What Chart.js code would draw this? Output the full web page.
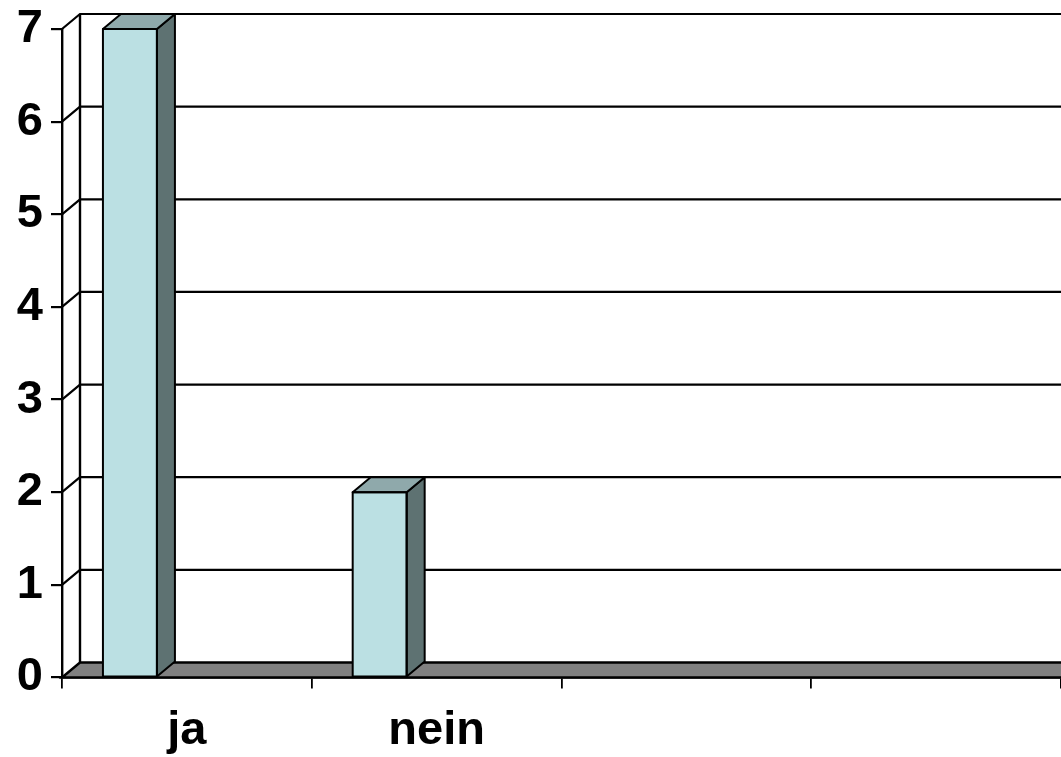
<!DOCTYPE html>
<html>
<head>
<meta charset="utf-8">
<script src="https://cdn.jsdelivr.net/npm/chart.js@4.4.1/dist/chart.umd.min.js"></script>
<style>
  html, body { margin: 0; padding: 0; background: #ffffff; }
  #wrap { width: 1061px; height: 757px; position: relative; }
</style>
</head>
<body>
<div id="wrap"><canvas id="c"></canvas></div>
<script>
// ---- data ----
const categories = ['ja', 'nein', '', ''];
const answerCounts = [7, 2, null, null];
const emptySeries = [null, null, null, null];
const yTicks = [0, 1, 2, 3, 4, 5, 6, 7];

// ---- 3D look ----
const DEPTH_X = 18;
const DEPTH_Y = 15;
const FRONT = '#bbe0e3';
const SIDE = '#5e7272';
const TOP = '#8fa9ab';
const FLOOR = '#808080';

const threeD = {
  id: 'threeD',
  beforeDatasetsDraw(chart) {
    const { ctx, chartArea: a, scales } = chart;
    const y = scales.y;
    ctx.save();
    // floor
    ctx.beginPath();
    ctx.moveTo(a.left, a.bottom);
    ctx.lineTo(a.left + DEPTH_X, a.bottom - DEPTH_Y);
    ctx.lineTo(a.right + DEPTH_X, a.bottom - DEPTH_Y);
    ctx.lineTo(a.right, a.bottom);
    ctx.closePath();
    ctx.fillStyle = FLOOR;
    ctx.fill();
    ctx.strokeStyle = '#000';
    ctx.lineWidth = 2.4;
    ctx.stroke();
    // back wall left edge
    ctx.beginPath();
    ctx.moveTo(a.left + DEPTH_X, y.getPixelForValue(yTicks[yTicks.length - 1]) - DEPTH_Y);
    ctx.lineTo(a.left + DEPTH_X, a.bottom - DEPTH_Y);
    ctx.stroke();
    // gridlines on side wall and back wall
    ctx.lineWidth = 2.2;
    yTicks.forEach(v => {
      if (v === 0) return;
      const py = y.getPixelForValue(v);
      ctx.beginPath();
      ctx.moveTo(a.left, py);
      ctx.lineTo(a.left + DEPTH_X, py - DEPTH_Y);
      ctx.lineTo(a.right + DEPTH_X + 5, py - DEPTH_Y);
      ctx.stroke();
    });
    ctx.restore();
  },
  afterDatasetsDraw(chart) {
    const { ctx } = chart;
    const meta = chart.getDatasetMeta(0);
    ctx.save();
    ctx.strokeStyle = '#000';
    ctx.lineWidth = 2;
    ctx.lineJoin = 'round';
    meta.data.forEach((bar, i) => {
      if (answerCounts[i] == null) return;
      const p = bar.getProps(['x', 'y', 'base', 'width'], true);
      const l = p.x - p.width / 2, r = p.x + p.width / 2;
      const t = p.y, b = p.base;
      // side face
      ctx.beginPath();
      ctx.moveTo(r, t);
      ctx.lineTo(r + DEPTH_X, t - DEPTH_Y);
      ctx.lineTo(r + DEPTH_X, b - DEPTH_Y);
      ctx.lineTo(r, b);
      ctx.closePath();
      ctx.fillStyle = SIDE;
      ctx.fill();
      ctx.stroke();
      // top face
      ctx.beginPath();
      ctx.moveTo(l, t);
      ctx.lineTo(l + DEPTH_X, t - DEPTH_Y);
      ctx.lineTo(r + DEPTH_X, t - DEPTH_Y);
      ctx.lineTo(r, t);
      ctx.closePath();
      ctx.fillStyle = TOP;
      ctx.fill();
      ctx.stroke();
      // front outline
      ctx.strokeRect(l, t, r - l, b - t);
    });
    ctx.restore();
  }
};

new Chart(document.getElementById('c'), {
  type: 'bar',
  data: {
    labels: categories,
    datasets: [
      { data: answerCounts, backgroundColor: FRONT, borderColor: '#000', borderWidth: 0,
        categoryPercentage: 0.912, barPercentage: 0.474 },
      { data: emptySeries, backgroundColor: FRONT,
        categoryPercentage: 0.912, barPercentage: 0.474 }
    ]
  },
  options: {
    responsive: true,
    maintainAspectRatio: false,
    animation: false,
    layout: { padding: { top: 29, right: 0, left: 0, bottom: 0 } },
    plugins: { legend: { display: false }, tooltip: { enabled: false } },
    scales: {
      x: {
        afterFit(scale) { scale.height = 79.5; scale.paddingLeft = 0; scale.paddingRight = 0; },
        grid: { offset: true, drawOnChartArea: false, drawTicks: true, tickLength: 11, color: '#000', lineWidth: 1.8 },
        border: { display: true, color: '#000', width: 2.4 },
        ticks: { color: '#000', padding: 14, maxRotation: 0, autoSkip: false,
          font: { family: '"Liberation Sans", Arial, sans-serif', size: 47, weight: 'bold' } }
      },
      y: {
        min: 0, max: 7,
        afterFit(scale) { scale.width = 62; scale.paddingTop = 0; scale.paddingBottom = 0; },
        afterBuildTicks(scale) { scale.ticks = yTicks.map(v => ({ value: v })); },
        grid: { drawOnChartArea: false, drawTicks: true, tickLength: 11, color: '#000', lineWidth: 2.2 },
        border: { display: true, color: '#000', width: 2.4 },
        ticks: { color: '#000', padding: 8,
          font: { family: '"Liberation Sans", Arial, sans-serif', size: 47, weight: 'bold' } }
      }
    }
  },
  plugins: [threeD]
});
</script>
</body>
</html>
